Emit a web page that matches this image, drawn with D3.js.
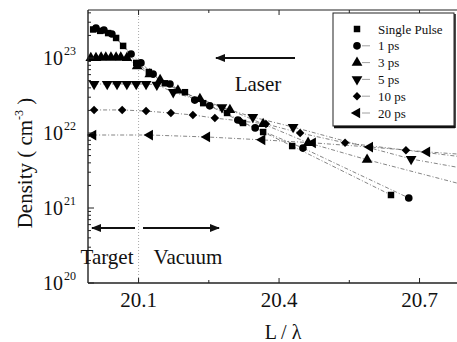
<!DOCTYPE html>
<html><head><meta charset="utf-8">
<script src="https://cdn.jsdelivr.net/npm/d3@7"></script>
<style>body{margin:0;background:#fff}svg{display:block}text{font-family:"Liberation Serif","Times New Roman",serif;fill:#111}</style>
</head><body><svg id="c" width="457" height="342"></svg>
<script>
// ---- data ----
const seriesNames = ["Single Pulse","1 ps","3 ps","5 ps","10 ps","20 ps"];
const singleX = [20.003,20.018,20.035,20.052,20.067,20.095,20.122,20.156,20.199,20.238,20.289,20.323,20.366,20.428,20.639];
const singleY = [2.4e23,2.3e23,2.15e23,1.85e23,1.45e23,8.6e22,6.5e22,4.6e22,3.5e22,2.5e22,1.85e22,1.36e22,1.03e22,6.7e21,1.49e21];
const ps1X = [20.009,20.026,20.043,20.084,20.105,20.131,20.167,20.22,20.252,20.312,20.349,20.451,20.677];
const ps1Y = [2.5e23,2.36e23,2.09e23,1.13e23,8.6e22,6.1e22,4.5e22,2.75e22,2.3e22,1.49e22,1.17e22,6.3e21,1.36e21];
const ps3X = [19.998,20.009,20.02,20.03,20.041,20.052,20.062,20.075,20.097,20.124,20.146,20.184,20.231,20.295,20.366,20.462,20.588];
const ps3Y = [1.0e23,1.0e23,1.02e23,1.02e23,1.02e23,1.02e23,1.02e23,1.0e23,7.8e22,6.1e22,5.1e22,3.7e22,2.84e22,2.03e22,1.32e22,7.4e21,4.4e21];
const ps5X = [20.005,20.033,20.054,20.075,20.095,20.116,20.139,20.174,20.278,20.344,20.43,20.682];
const ps5Y = [4.5e22,4.5e22,4.5e22,4.5e22,4.5e22,4.5e22,4.4e22,3.5e22,2.2e22,1.63e22,1.2e22,4.5e21];
const ps10X = [20.005,20.065,20.116,20.169,20.216,20.263,20.317,20.372,20.445,20.541,20.671];
const ps10Y = [2.03e22,2.03e22,1.96e22,1.85e22,1.74e22,1.58e22,1.45e22,1.32e22,1.0e22,7.4e21,5.9e21];
const ps20X = [20.003,20.124,20.246,20.364,20.472,20.594,20.716];
const ps20Y = [9.4e21,9.4e21,8.85e21,8.1e21,7.4e21,6.5e21,5.6e21];
// fitted line continuation to the right edge (no markers)
const tailX = 20.78;
const tailY = [null,null,2.15e21,3.5e21,4.9e21,5.25e21];
const xTicks = [20.1,20.4,20.7];
const xMinorTicks = [20.25,20.55];
const yTickExp = [20,21,22,23];

// ---- drawing ----
const svg = d3.select("#c");
const L=88,R=457,T=10,B=283;
const x = d3.scaleLinear().domain([19.992,20.78]).range([L,R]);
const y = d3.scaleLog().domain([1e20,Math.pow(10,23.64)]).range([B,T]);

const sq = d3.symbol().type(d3.symbolSquare).size(42);
const ci = d3.symbol().type(d3.symbolCircle).size(46);
const tr = d3.symbol().type(d3.symbolTriangle).size(50);
const dm = d3.symbol().type(d3.symbolSquare).size(36);
const shapes = [
  {p:sq(),rot:0},{p:ci(),rot:0},{p:tr(),rot:0},{p:tr(),rot:180},{p:dm(),rot:45},{p:tr(),rot:-90}
];
const data = [[singleX,singleY],[ps1X,ps1Y],[ps3X,ps3Y],[ps5X,ps5Y],[ps10X,ps10Y],[ps20X,ps20Y]];

// dotted vertical reference at 20.1
svg.append("line").attr("x1",x(20.1)).attr("x2",x(20.1)).attr("y1",T).attr("y2",B)
  .attr("stroke","#aaa").attr("stroke-width",1).attr("stroke-dasharray","1,2");

// lines
const line = d3.line().x(d=>x(d[0])).y(d=>y(d[1]));
data.forEach((s,i)=>{
  const pts = s[0].map((v,j)=>[v,s[1][j]]);
  if(tailY[i]!==null) pts.push([tailX,tailY[i]]);
  svg.append("path").attr("d",line(pts)).attr("fill","none")
    .attr("stroke","#666").attr("stroke-width",0.8).attr("stroke-dasharray","4,2,1,2");
});
// markers
data.forEach((s,i)=>{
  svg.append("g").selectAll("path").data(s[0].map((v,j)=>[v,s[1][j]])).join("path")
    .attr("d",shapes[i].p)
    .attr("transform",d=>`translate(${x(d[0])},${y(d[1])}) rotate(${shapes[i].rot})`)
    .attr("fill","#000");
});

// frame
svg.append("line").attr("x1",L).attr("x2",R).attr("y1",T).attr("y2",T).attr("stroke","#222").attr("stroke-width",1.2);
svg.append("line").attr("x1",L).attr("x2",R).attr("y1",B).attr("y2",B).attr("stroke","#222").attr("stroke-width",1.4);
svg.append("line").attr("x1",L).attr("x2",L).attr("y1",T).attr("y2",B).attr("stroke","#222").attr("stroke-width",1.4);

// x ticks (inward)
xTicks.forEach(t=>{
  svg.append("line").attr("x1",x(t)).attr("x2",x(t)).attr("y1",B).attr("y2",B-5).attr("stroke","#222");
  svg.append("line").attr("x1",x(t)).attr("x2",x(t)).attr("y1",T).attr("y2",T+5).attr("stroke","#222");
  svg.append("text").attr("x",x(t)).attr("y",B+24).attr("text-anchor","middle").attr("font-size",21).text(t.toFixed(1));
});
xMinorTicks.forEach(t=>{
  svg.append("line").attr("x1",x(t)).attr("x2",x(t)).attr("y1",B).attr("y2",B-3).attr("stroke","#222");
  svg.append("line").attr("x1",x(t)).attr("x2",x(t)).attr("y1",T).attr("y2",T+3).attr("stroke","#222");
});
// y ticks
yTickExp.forEach(e=>{
  const yy=y(Math.pow(10,e));
  svg.append("line").attr("x1",L).attr("x2",L+6).attr("y1",yy).attr("y2",yy).attr("stroke","#222");
  svg.append("text").attr("x",63).attr("y",yy+7).attr("text-anchor","end").attr("font-size",20).text("10");
  svg.append("text").attr("x",64).attr("y",yy-3).attr("font-size",12).text(String(e));
  const maxM = e<23 ? 9 : 4;
  for(let m=2;m<=maxM;m++){
    const v=m*Math.pow(10,e);
    svg.append("line").attr("x1",L).attr("x2",L+3).attr("y1",y(v)).attr("y2",y(v)).attr("stroke","#222");
  }
});

// axis titles
const yl = svg.append("text").attr("transform","translate(32,163) rotate(-90)").attr("text-anchor","middle").attr("font-size",21);
yl.append("tspan").text("Density ( cm");
yl.append("tspan").attr("font-size",12).attr("dy",-9).text("-3");
yl.append("tspan").attr("dy",9).text(" )");
svg.append("text").attr("x",283).attr("y",339).attr("text-anchor","middle").attr("font-size",20).text("L / λ");

// annotations
const defs = svg.append("defs");
defs.append("marker").attr("id","ah").attr("viewBox","0 0 10 10").attr("refX",9).attr("refY",5)
  .attr("markerWidth",6).attr("markerHeight",5).attr("orient","auto-start-reverse")
  .append("path").attr("d","M0,1 L10,5 L0,9 Z").attr("fill","#111");
function arrow(x1,y1,x2,y2){
  svg.append("line").attr("x1",x1).attr("y1",y1).attr("x2",x2).attr("y2",y2)
    .attr("stroke","#111").attr("stroke-width",2).attr("marker-end","url(#ah)");
}
arrow(295,58,216,58);
arrow(135,228,92,228);
arrow(143,228,219,228);
svg.append("text").attr("x",258).attr("y",91).attr("text-anchor","middle").attr("font-size",21).text("Laser");
svg.append("text").attr("x",107).attr("y",264).attr("text-anchor","middle").attr("font-size",21).text("Target");
svg.append("text").attr("x",188).attr("y",264).attr("text-anchor","middle").attr("font-size",21).text("Vacuum");

// legend
const lg = svg.append("g");
lg.append("rect").attr("x",333).attr("y",13).attr("width",121).attr("height",113).attr("fill","#fff").attr("stroke","#222").attr("stroke-width",1);
lg.append("line").attr("x1",334).attr("x2",455).attr("y1",127).attr("y2",127).attr("stroke","#111").attr("stroke-width",2.5);
lg.append("line").attr("x1",455).attr("x2",455).attr("y1",14).attr("y2",128).attr("stroke","#111").attr("stroke-width",1.5);
seriesNames.forEach((n,i)=>{
  const yy = 29 + i*16.8;
  if(i>0) lg.append("line").attr("x1",362).attr("x2",370).attr("y1",yy).attr("y2",yy).attr("stroke","#888").attr("stroke-width",0.8);
  lg.append("path").attr("d",shapes[i].p).attr("transform",`translate(357,${yy}) rotate(${shapes[i].rot})`).attr("fill","#000");
  lg.append("text").attr("x",378).attr("y",yy+4.5).attr("font-size",13).text(n);
});
</script></body></html>
